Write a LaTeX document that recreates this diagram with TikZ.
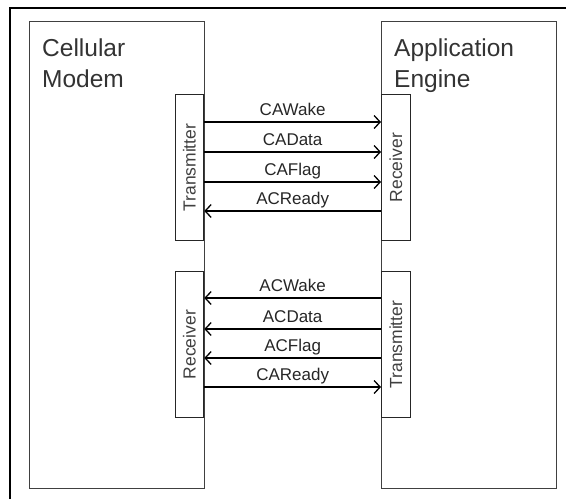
\documentclass[tikz,border=0pt]{standalone}
\usepackage{fontspec}
\setmainfont{Liberation Sans}
\usetikzlibrary{arrows.meta,positioning}

\begin{document}
\begin{tikzpicture}[
    x=1pt, y=-1pt,
    >={Straight Barb[length=6pt,width=13pt,line width=1.3pt]},
    unit/.style={draw=black!75, line width=1.4pt, rectangle, inner sep=0,
        minimum width=175pt, minimum height=467pt, anchor=north west},
    port/.style={draw=black!85, line width=1.3pt, rectangle, inner sep=0,
        minimum width=28.5pt, minimum height=146pt, anchor=north west},
    title/.style={font=\fontsize{24.5}{31}\selectfont, text=black!80,
        align=left, anchor=north west, inner sep=0},
    vtext/.style={font=\fontsize{17.5}{19}\selectfont, text=black!75,
        rotate=90, inner sep=0},
    sig/.style={->, line width=1.3pt},
    siglabel/.style={font=\fontsize{17}{19}\selectfont, text=black!85,
        anchor=base, yshift=7pt, inner sep=0},
]
\useasboundingbox (0,0) rectangle (566,499);

% outer frame (cut off at right and bottom)
\coordinate (fbot) at (10,499);
\coordinate (fright) at (566,8);
\draw[line width=2.2pt] (fbot) |- (fright);

% the two units
\node[unit] (modem) at (29,21) {};
\node[unit] (engine) at (381,21) {};
\node[title] (modemtitle) at (42,39) {Cellular\\Modem};
\node[title] (enginetitle) at (394,39) {Application\\Engine};

% transmitter / receiver blocks
\node[port] (tx1) at (174.5,94) {};
\node[port] (rx1) at (381,94) {};
\node[port] (rx2) at (174.5,271) {};
\node[port] (tx2) at (381,271) {};
\node[vtext] (tx1text) at (tx1) {Transmitter};
\node[vtext] (rx1text) at (rx1) {Receiver};
\node[vtext] (rx2text) at (rx2) {Receiver};
\node[vtext] (tx2text) at (tx2) {Transmitter};

% modem -> engine
\draw[sig] (tx1.east |- 0,122) -- node[siglabel] {CAWake} (rx1.west |- 0,122);
\draw[sig] (tx1.east |- 0,152) -- node[siglabel] {CAData} (rx1.west |- 0,152);
\draw[sig] (tx1.east |- 0,182) -- node[siglabel] {CAFlag} (rx1.west |- 0,182);
\draw[sig] (rx1.west |- 0,211) -- node[siglabel] {ACReady} (tx1.east |- 0,211);

% engine -> modem
\draw[sig] (tx2.west |- 0,298) -- node[siglabel] {ACWake} (rx2.east |- 0,298);
\draw[sig] (tx2.west |- 0,329) -- node[siglabel] {ACData} (rx2.east |- 0,329);
\draw[sig] (tx2.west |- 0,358) -- node[siglabel] {ACFlag} (rx2.east |- 0,358);
\draw[sig] (rx2.east |- 0,387) -- node[siglabel] {CAReady} (tx2.west |- 0,387);

\end{tikzpicture}
\end{document}
